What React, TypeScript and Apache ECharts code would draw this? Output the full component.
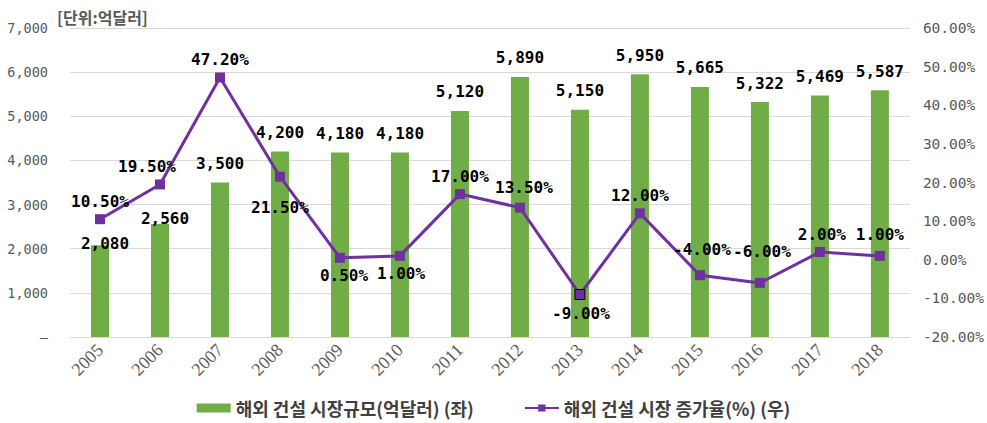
import React, { useEffect, useRef } from "react";
import * as echarts from "echarts";

const years = ["2005", "2006", "2007", "2008", "2009", "2010", "2011", "2012", "2013", "2014", "2015", "2016", "2017", "2018"];
const marketSize = [2080, 2560, 3500, 4200, 4180, 4180, 5120, 5890, 5150, 5950, 5665, 5322, 5469, 5587];
const growthRate = [10.5, 19.5, 47.2, 21.5, 0.5, 1.0, 17.0, 13.5, -9.0, 12.0, -4.0, -6.0, 2.0, 1.0];
const barName = "해외 건설 시장규모(억달러) (좌)";
const lineName = "해외 건설 시장 증가율(%) (우)";
const unitText = "[단위:억달러]";

// label placement tweaks (per category index)
const barLabelOffsets: Record<number, number[]> = { 0: [5, 17], 1: [5, 14] };
const lineLabelPos: Record<number, { position: string; offset: number[] }> = {
  1: { position: "top", offset: [-13, 0] },
  3: { position: "bottom", offset: [0, 13] },
  4: { position: "bottom", offset: [4, 0] },
  5: { position: "bottom", offset: [1, 0] },
  7: { position: "top", offset: [4, -2] },
  8: { position: "bottom", offset: [1, 0] },
  10: { position: "top", offset: [2, -8] },
  11: { position: "top", offset: [2, -13] },
  12: { position: "top", offset: [2, 0] },
  13: { position: "top", offset: [0, -3] },
};

const LABEL_FONT = "'DejaVu Sans Mono', monospace";

export default function App() {
  const ref = useRef<HTMLDivElement>(null);
  useEffect(() => {
    if (!ref.current) return;
    const chart = echarts.init(ref.current, null, { renderer: "svg" });
    const barData = marketSize.map((v, i) => {
      const o = barLabelOffsets[i];
      return o ? { value: v, label: { offset: o } } : { value: v };
    });
    const lineData = growthRate.map((v, i) => {
      const item: any = { value: v };
      const p = lineLabelPos[i];
      if (p) item.label = { position: p.position, offset: p.offset };
      if (i === 8) item.itemStyle = { borderColor: "#000", borderWidth: 1 };
      return item;
    });
    chart.setOption({
      animation: false,
      backgroundColor: "#fff",
      grid: { left: 70, right: 72, top: 28, bottom: 86 },
      graphic: [
        {
          type: "text",
          left: 57,
          top: 9,
          style: {
            text: unitText,
            fill: "#595959",
            font: "bold 16px 'Noto Sans CJK KR', sans-serif",
          },
        },
      ],
      legend: {
        bottom: 1,
        left: "center",
        itemGap: 50,
        textStyle: {
          color: "#404040",
          fontSize: 18,
          fontWeight: "bold",
          fontFamily: "'Noto Sans CJK KR', sans-serif",
        },
        data: [
          { name: barName, icon: "rect", itemStyle: { color: "#70ad47" } },
          { name: lineName },
        ],
        itemWidth: 34,
        itemHeight: 9,
      },
      xAxis: {
        type: "category",
        data: years,
        boundaryGap: true,
        axisLine: { show: true, lineStyle: { color: "#d9d9d9", width: 1 } },
        axisTick: { show: false },
        axisLabel: {
          rotate: 45,
          margin: 10,
          color: "#595959",
          fontSize: 18,
          fontFamily: "'Liberation Serif', serif",
        },
      },
      yAxis: [
        {
          type: "value",
          min: 0,
          max: 7000,
          interval: 1000,
          axisLine: { show: false },
          axisTick: { show: false },
          splitLine: { show: true, lineStyle: { color: "#d9d9d9", width: 1 } },
          axisLabel: {
            margin: 22,
            color: "#595959",
            fontSize: 13.5,
            fontFamily: LABEL_FONT,
            formatter: (v: number) => (v === 0 ? "–" : v.toLocaleString("en-US")),
          },
        },
        {
          type: "value",
          min: -20,
          max: 60,
          interval: 10,
          position: "right",
          axisLine: { show: false },
          axisTick: { show: false },
          splitLine: { show: false },
          axisLabel: {
            margin: 13,
            color: "#595959",
            fontSize: 14.5,
            fontFamily: LABEL_FONT,
            formatter: (v: number) => v.toFixed(2) + "%",
          },
        },
      ],
      series: [
        {
          name: barName,
          type: "bar",
          yAxisIndex: 0,
          data: barData,
          barWidth: 18,
          itemStyle: { color: "#70ad47" },
          label: {
            show: true,
            position: "top",
            distance: 11,
            color: "#000",
            fontSize: 16,
            fontWeight: "bold",
            fontFamily: LABEL_FONT,
            formatter: (p: any) => Number(p.value).toLocaleString("en-US"),
          },
          z: 2,
        },
        {
          name: lineName,
          type: "line",
          yAxisIndex: 1,
          data: lineData,
          symbol: "rect",
          symbolSize: 10,
          lineStyle: { color: "#7030a0", width: 3 },
          itemStyle: { color: "#7030a0" },
          label: {
            show: true,
            position: "top",
            distance: 5,
            color: "#000",
            fontSize: 16,
            fontWeight: "bold",
            fontFamily: LABEL_FONT,
            formatter: (p: any) => Number(p.value).toFixed(2) + "%",
          },
          z: 3,
        },
      ],
    });
    return () => chart.dispose();
  }, []);
  return (
    <div
      ref={ref}
      style={{ position: "absolute", left: 0, top: 0, width: 987, height: 423 }}
    />
  );
}
